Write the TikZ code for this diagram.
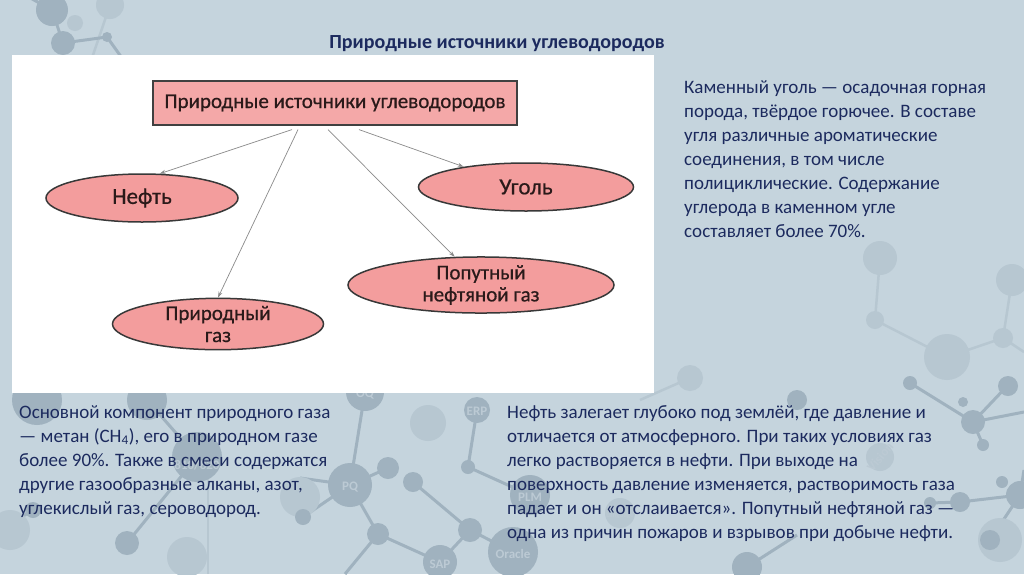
\documentclass[tikz,border=0pt]{standalone}
\usepackage{fontspec}
\setmainfont{Carlito}
\newfontfamily\diagfont{Carlito}[FakeBold=0.6]
\usetikzlibrary{shapes.geometric, arrows.meta}

\definecolor{slidebg}{HTML}{C5D4DD}
\definecolor{molDark}{HTML}{A0B2BF}
\definecolor{molLight}{HTML}{B7C7D1}
\definecolor{molText}{HTML}{BCCAD4}
\definecolor{inkBlue}{HTML}{1C2A5E}
\definecolor{inkDark}{HTML}{2A1A1A}
\definecolor{boxPink}{HTML}{F4A8A8}
\definecolor{ovalPink}{HTML}{F39D9D}
\definecolor{edgeGrey}{HTML}{8A8A8A}

\tikzset{
  bond/.style={draw=molDark, line width=3pt},
  faintbond/.style={draw=molLight, line width=2.5pt},
  tag/.style={text=molText, font=\bfseries\fontsize{13}{13}\selectfont},
  source/.style={draw=black!75, line width=1.2pt, fill=boxPink, rectangle,
    minimum width=364pt, minimum height=44pt, text=inkDark,
    font=\diagfont\fontsize{21}{21}\selectfont},
  oval/.style={draw=black!78, line width=1.5pt, fill=ovalPink, ellipse,
    inner sep=0pt, text=inkDark, align=center,
    font=\diagfont\fontsize{21}{22}\selectfont},
  link/.style={draw=edgeGrey, line width=0.7pt, -{Stealth[length=6pt,width=4pt]}},
  para/.style={anchor=north west, inner sep=0pt, align=left, text=inkBlue,
    font=\fontsize{19}{24}\selectfont}
}

\begin{document}
\begin{tikzpicture}[x=1pt, y=-1pt]
  \useasboundingbox (0,0) rectangle (1024,574);
  \fill[slidebg] (0,0) rectangle (1024,574);

  % background molecules
  \draw[faintbond] (110,5) -- (92,58);
  \draw[faintbond] (880,258) -- (875,320) -- (947,357) -- (1003,338) -- (1012,280);
  \draw[faintbond] (1003,338) -- (1024,352);
  \draw[faintbond] (208,470) -- (208,574);
  \draw[faintbond] (690,378) -- (640,400);
  \draw[bond] (25,-5) -- (52,10) -- (63,43) -- (107,37) -- (122,58);
  \draw[bond] (365,392) -- (350,485) -- (388,468);
  \draw[bond] (300,478) -- (350,485) -- (303,517);
  \draw[bond] (350,485) -- (378,534) -- (440,562) -- (470,530) -- (513,552);
  \draw[bond] (413,482) -- (470,530);
  \draw[bond] (477,410) -- (468,467) -- (530,495);
  \draw[bond] (378,534) -- (345,574);
  \draw[bond] (127,543) -- (197,457) -- (147,400);
  \draw[bond] (33,510) -- (0,530);
  \draw[bond] (910,383) -- (973,422) -- (1010,383);
  \draw[bond] (973,422) -- (1024,412);
  \draw[bond] (973,422) -- (983,445);
  \draw[bond] (930,503) -- (960,502) -- (1020,495) -- (990,540);
  \draw[bond] (1020,495) -- (1024,470);
  \draw[bond] (747,567) -- (797,535);
  \foreach \cx/\cy/\r in {110/5/14, 75/23/8, 880/258/17, 875/320/9, 947/357/23,
      1003/338/10, 1012/280/16, 690/378/13, 428/423/18, 300/497/20, 620/513/15,
      10/530/20, 187/557/20, 1000/540/22, 880/457/14}
    \fill[molLight] (\cx,\cy) circle (\r pt);
  \foreach \cx/\cy/\r in {52/10/16, 63/43/12, 107/37/5, 365/392/19, 350/485/22,
      388/468/11, 413/482/10, 378/534/11, 440/562/17, 470/530/12, 513/552/25,
      477/410/13, 468/467/7, 530/495/20, 303/517/8, 37/400/25, 147/400/20,
      197/457/25, 33/510/8, 127/543/12, 910/383/7, 1008/386/10, 963/402/5,
      797/400/10, 973/422/12, 983/445/6, 1020/495/14, 1002/482/6, 990/540/10,
      960/502/10, 930/503/6, 747/567/15}
    \fill[molDark] (\cx,\cy) circle (\r pt);
  \node[tag] (tagOQ) at (365,394) {OQ};
  \node[tag] (tagPQ) at (350,487) {PQ};
  \node[tag] (tagSAP) at (440,564) {SAP};
  \node[tag] (tagOracle) at (513,554) {Oracle};
  \node[tag] (tagERP) at (477,411) {ERP};
  \node[tag] (tagPLM) at (530,497) {PLM};
  \node[tag, rotate=50] (tagVision) at (880,457) {Vision};
  \node[tag, font=\bfseries\fontsize{7}{7}\selectfont] (tagLang) at (620,516) {Language};
  \node[tag] (tagNum) at (197,465) {810/820};

  % slide title
  \node[text=inkBlue, font=\bfseries\fontsize{20}{20}\selectfont] (title) at (497,44)
    {Природные источники углеводородов};

  % white diagram panel
  \fill[white] (12,55) rectangle (654,393);

  \node[source] (top) at (335,103) {Природные источники углеводородов};
  \node[oval, minimum width=192pt, minimum height=48pt,
    font=\diagfont\fontsize{23}{23}\selectfont] (oil) at (142,198) {Нефть};
  \node[oval, minimum width=215pt, minimum height=48pt,
    font=\diagfont\fontsize{23}{23}\selectfont] (coal) at (526,187) {Уголь};
  \node[oval, minimum width=266pt, minimum height=48pt] (assoc) at (481,285)
    {Попутный\\нефтяной газ};
  \node[oval, minimum width=211pt, minimum height=49pt] (natgas) at (218,324)
    {Природный\\газ};

  \draw[link] ([xshift=-43pt, yshift=-4pt]top.south) -- (oil.54);
  \draw[link] ([xshift=-37pt, yshift=-4pt]top.south) -- (natgas.north);
  \draw[link] ([xshift=-7pt, yshift=-4pt]top.south) -- (assoc.133);
  \draw[link] ([xshift=24pt, yshift=-4pt]top.south) -- (coal.162);

  % text blocks
  \node[para] (coalText) at (684,80)
    {Каменный уголь — осадочная горная\\
     порода, твёрдое горючее. В составе\\
     угля различные ароматические\\
     соединения, в том числе\\
     полициклические. Содержание\\
     углерода в каменном угле\\
     составляет более 70\%.};
  \node[para] (gasText) at (19,405)
    {Основной компонент природного газа\\
     — метан (CH\textsubscript{4}), его в природном газе\\
     более 90\%. Также в смеси содержатся\\
     другие газообразные алканы, азот,\\
     углекислый газ, сероводород.};
  \node[para] (oilText) at (507,405)
    {Нефть залегает глубоко под землёй, где давление и\\
     отличается от атмосферного. При таких условиях газ\\
     легко растворяется в нефти. При выходе на\\
     поверхность давление изменяется, растворимость газа\\
     падает и он «отслаивается». Попутный нефтяной газ —\\
     одна из причин пожаров и взрывов при добыче нефти.};
\end{tikzpicture}
\end{document}
